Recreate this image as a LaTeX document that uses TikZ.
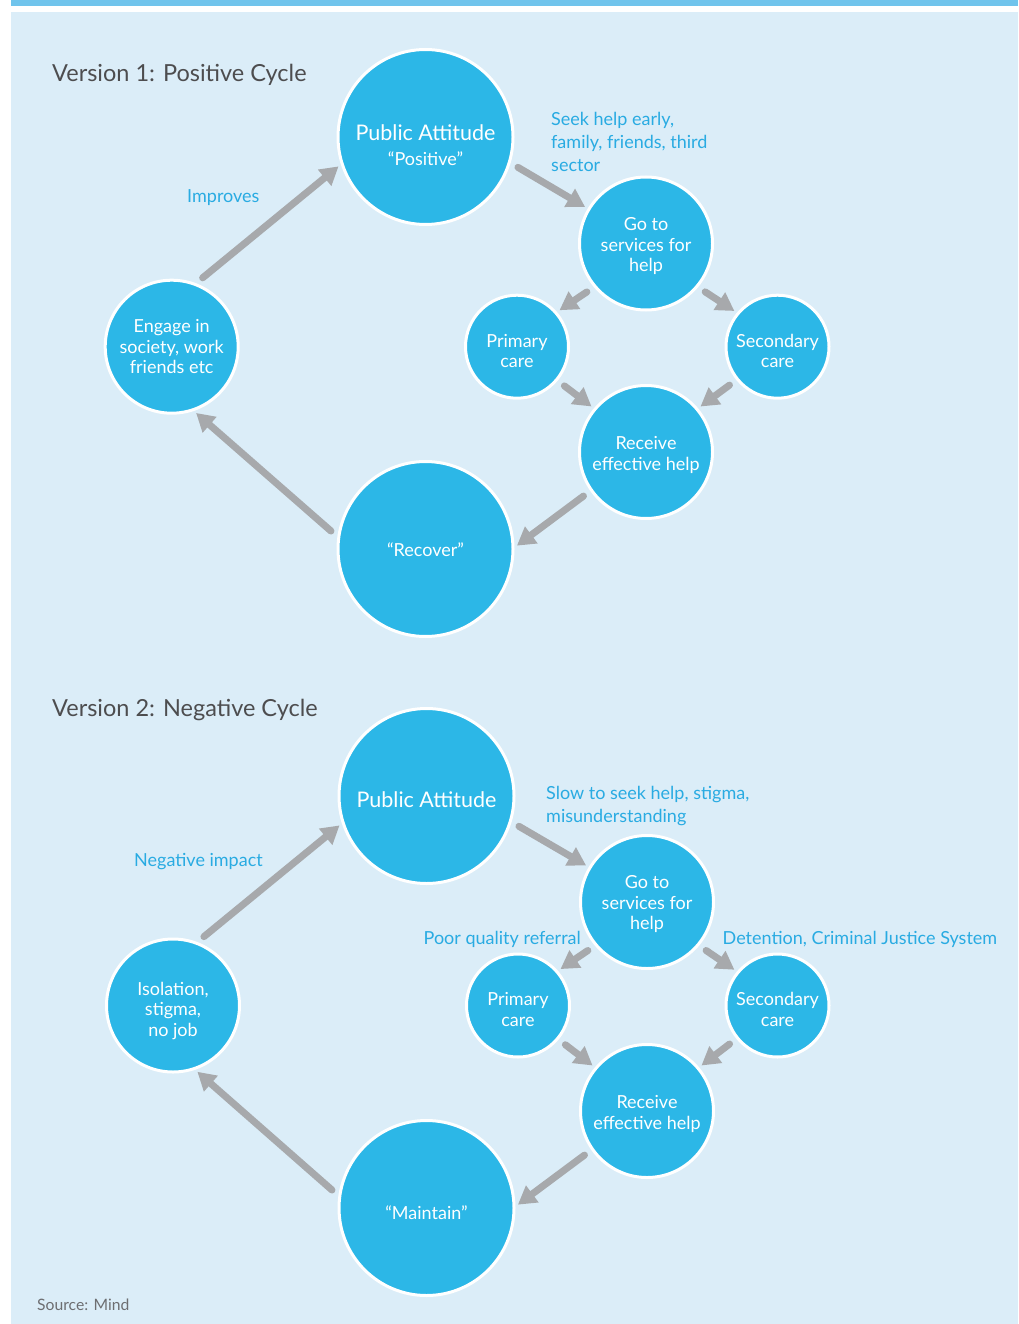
\documentclass[tikz,border=0pt]{standalone}
\usepackage{fontspec}
\setmainfont{Lato}
\usetikzlibrary{arrows.meta}
\definecolor{stripe}{RGB}{112,196,236}
\definecolor{bgblue}{RGB}{219,237,248}
\definecolor{cfill}{RGB}{44,183,231}
\definecolor{lblue}{RGB}{41,171,226}
\definecolor{agray}{RGB}{167,169,172}
\definecolor{tgray}{RGB}{77,77,79}
\definecolor{sgray}{RGB}{109,110,113}
\begin{document}
\begin{tikzpicture}[x=1pt,y=-1pt,
  bubble/.style={circle, fill=cfill, draw=white, line width=3pt, inner sep=0pt},
  bigc/.style={bubble, minimum size=175pt},
  midc/.style={bubble, minimum size=133pt},
  smlc/.style={bubble, minimum size=103pt},
  ctext/.style={inner sep=0pt, text=white, align=center, font=\fontsize{18}{20.5}\selectfont},
  flow/.style={line width=7pt, draw=agray, line cap=round,
    -{Triangle[width=20pt,length=18pt]}, shorten <=8.5pt, shorten >=3pt},
  ttl/.style={anchor=base west, inner sep=0pt, text=tgray, font=\fontsize{23.5}{28}\selectfont},
  lbl/.style={anchor=base west, inner sep=0pt, text=lblue, font=\fontsize{18}{23}\selectfont},
  bigtxt/.style={font=\fontsize{21.5}{25}\selectfont}
]
\useasboundingbox (0,0) rectangle (1018,1324);
\fill[stripe] (11,0) rectangle (1018,6);
\fill[bgblue] (11,12) rectangle (1018,1324);

% ---------- Version 1 ----------
\node[ttl] (t1) at (52,82) {Version 1: Positive Cycle};
\node[bigc] (pa1) at (425.5,137) {};
\node[midc] (go1) at (646,243.5) {};
\node[smlc] (pc1) at (517,346.7) {};
\node[smlc] (sc1) at (777.5,346.7) {};
\node[midc] (re1) at (646,452) {};
\node[bigc] (rc1) at (425.5,549) {};
\node[midc] (en1) at (171.7,346.7) {};

\node[ctext] (pa1t) at ([yshift=-8pt]pa1.center) {{\fontsize{21.5}{25}\selectfont Public Attitude}\\[4pt]“Positive”};
\node[ctext] (go1t) at ([yshift=-3pt]go1.center) {Go to\\services for\\help};
\node[ctext] (pc1t) at ([yshift=-4.5pt]pc1.center) {Primary\\care};
\node[ctext] (sc1t) at ([yshift=-4pt]sc1.center) {Secondary\\care};
\node[ctext] (re1t) at ([yshift=-3pt]re1.center) {Receive\\effective help};
\node[ctext] (rc1t) at ([yshift=-1pt]rc1.center) {“Recover”};
\node[ctext] (en1t) at (en1.center) {Engage in\\society, work\\friends etc};

\node[lbl] (l1a) at (551,126) {Seek help early,};
\node[lbl] (l1b) at (551,149) {family, friends, third};
\node[lbl] (l1c) at (551,172) {sector};
\node[lbl] (l1d) at (187,202.5) {Improves};

\draw[flow] (en1.69) -- (pa1.198);
\draw[flow] (pa1.343) -- (go1.149);
\draw[flow] (go1.220) -- (pc1.41);
\draw[flow] (go1.320) -- (sc1.140);
\draw[flow] (pc1.320) -- (re1.140);
\draw[flow] (sc1.219) -- (re1.40);
\draw[flow] (re1.215) -- (rc1.1);
\draw[flow] (rc1.172) -- (en1.289);

% ---------- Version 2 ----------
\node[ttl] (t2) at (52,716) {Version 2: Negative Cycle};
\node[bigc] (pa2) at (426.5,796) {};
\node[midc] (go2) at (647,902) {};
\node[smlc] (pc2) at (518,1005.5) {};
\node[smlc] (sc2) at (777.5,1005.5) {};
\node[midc] (re2) at (647,1111) {};
\node[bigc] (rc2) at (426.5,1208) {};
\node[midc] (is2) at (173,1005.5) {};

\node[ctext, bigtxt] (pa2t) at ([yshift=-4pt]pa2.center) {Public Attitude};
\node[ctext] (go2t) at ([yshift=-2.5pt]go2.center) {Go to\\services for\\help};
\node[ctext] (pc2t) at ([yshift=-4pt]pc2.center) {Primary\\care};
\node[ctext] (sc2t) at ([yshift=-4pt]sc2.center) {Secondary\\care};
\node[ctext] (re2t) at ([yshift=-3pt]re2.center) {Receive\\effective help};
\node[ctext] (rc2t) at ([yshift=-5pt]rc2.center) {“Maintain”};
\node[ctext] (is2t) at ([yshift=-5pt]is2.center) {Isolation,\\stigma,\\no job};

\node[lbl] (l2a) at (546,799.5) {Slow to seek help, stigma,};
\node[lbl] (l2b) at (546,822.5) {misunderstanding};
\node[lbl] (l2c) at (134,866.5) {Negative impact};
\node[lbl, anchor=base east] (l2d) at (581,944) {Poor quality referral};
\node[lbl] (l2e) at (722.5,944) {Detention, Criminal Justice System};

\draw[flow] (is2.69) -- (pa2.198);
\draw[flow] (pa2.343) -- (go2.149);
\draw[flow] (go2.220) -- (pc2.41);
\draw[flow] (go2.320) -- (sc2.140);
\draw[flow] (pc2.320) -- (re2.140);
\draw[flow] (sc2.219) -- (re2.40);
\draw[flow] (re2.215) -- (rc2.1);
\draw[flow] (rc2.172) -- (is2.289);

\node[anchor=base west, inner sep=0pt, text=sgray, font=\fontsize{15.7}{19}\selectfont] (src) at (37,1310) {Source: Mind};
\end{tikzpicture}
\end{document}
